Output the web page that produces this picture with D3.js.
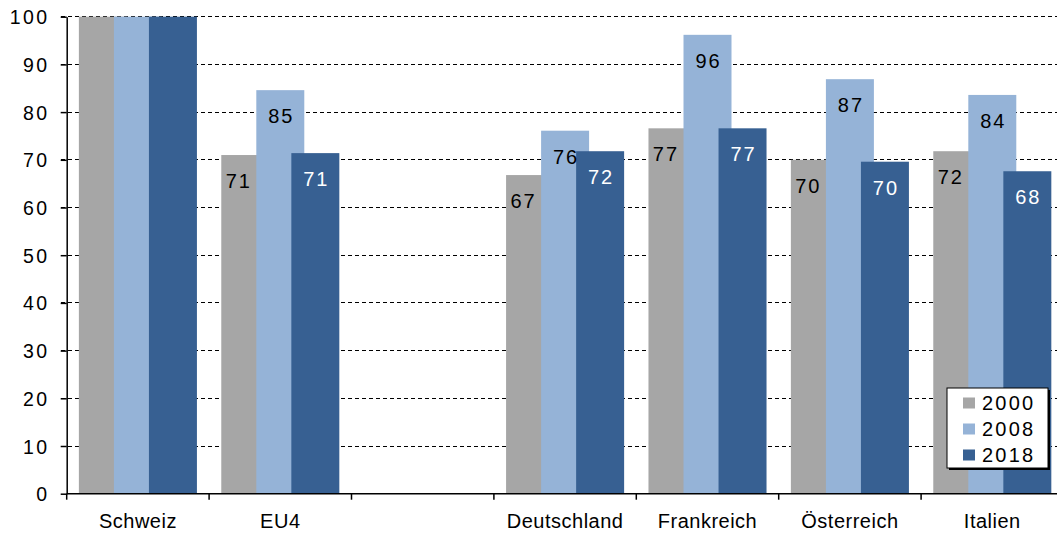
<!DOCTYPE html>
<html>
<head>
<meta charset="utf-8">
<script src="https://cdn.jsdelivr.net/npm/d3@7"></script>
<style>
  body { margin: 0; background: #fff; }
  text { font-family: "Liberation Sans", Arial, sans-serif; }
</style>
</head>
<body>
<div class="chart"></div>
<script>
// data
const categories = ["Schweiz", "EU4", "", "Deutschland", "Frankreich", "Österreich", "Italien"];
const years = ["2000", "2008", "2018"];
const v2000 = [100, 71.0, null, 66.8, 76.6, 70.0, 71.8];
const v2008 = [100, 84.6, null, 76.1, 96.2, 86.9, 83.6];
const v2018 = [100, 71.4, null, 71.8, 76.6, 69.6, 67.6];
const yTicks = [0, 10, 20, 30, 40, 50, 60, 70, 80, 90, 100];
const colors = ["#a6a6a6", "#95b3d7", "#376092"];

const width = 1057, height = 534;
const margin = ({ top: 16.7, left: 66.7, bottom: 40.3 });

const svg = d3.select(".chart")
    .append("svg")
    .attr("width", width)
    .attr("height", height)

// scales
const x = d3.scaleBand()
    .domain(categories)
    .range([margin.left, 1063.5])

const bw = x.bandwidth()
const barW = bw * 0.337
const step = bw * 0.246
const pad = (bw - 2 * step - barW) / 2

// left edge of each year's bar within a band (bars overlap)
const xYear = d3.scalePoint()
    .domain(years)
    .range([pad, pad + 2 * step])

const y = d3.scaleLinear()
    .domain([0, 100])
    .range([height - margin.bottom, margin.top])

const series = years.map((yr, i) => ({
    year: yr,
    color: colors[i],
    values: [v2000, v2008, v2018][i].map((v, j) => ({ cat: categories[j], v: v, year: yr }))
        .filter(d => d.v != null)
}))

// dashed gridlines
svg.append("g")
    .attr("shape-rendering", "crispEdges")
    .selectAll("line")
    .data(yTicks.filter(t => t > 0))
    .join("line")
    .attr("x1", margin.left - 6)
    .attr("x2", width)
    .attr("y1", d => y(d))
    .attr("y2", d => y(d))
    .attr("stroke", "#000")
    .attr("stroke-width", 1)
    .attr("stroke-dasharray", "4.5,2.5")

// bars, later years drawn on top
series.forEach(s => {
    svg.append("g")
        .selectAll("rect")
        .data(s.values)
        .join("rect")
        .attr("x", d => x(d.cat) + xYear(d.year))
        .attr("y", d => y(d.v))
        .attr("width", barW)
        .attr("height", d => y(0) - y(d.v))
        .attr("fill", s.color)
})

// value labels (no labels for Schweiz = index 100)
series.forEach((s, i) => {
    svg.append("g")
        .selectAll("text")
        .data(s.values.filter(d => d.cat !== "Schweiz"))
        .join("text")
        .attr("x", d => x(d.cat) + xYear(d.year) + (i === 0 ? step / 2 - 1 : barW / 2) + 1)
        .attr("y", d => y(d.v) + 33)
        .attr("text-anchor", "middle")
        .attr("font-size", "20px")
        .attr("letter-spacing", "2px")
        .attr("fill", i === 2 ? "#fff" : "#000")
        .text(d => d3.format(".0f")(d.v))
})

// y axis
const yAxis = svg.append("g")
    .attr("transform", "translate(" + margin.left + ",0)")
    .call(d3.axisLeft(y).tickValues(yTicks).tickSize(6).tickSizeOuter(0).tickPadding(11))
yAxis.select(".domain").attr("stroke", "#000").attr("stroke-width", 1.5)
yAxis.selectAll(".tick line").attr("stroke", "#000").attr("stroke-width", 1.5)
yAxis.selectAll("text")
    .attr("font-size", "19.5px")
    .attr("letter-spacing", "2.5px")
    .attr("dy", "0.36em")
    .attr("fill", "#000")
    .style("font-family", "'Liberation Sans', Arial, sans-serif")

// x axis
const xAxis = svg.append("g")
    .attr("transform", "translate(0," + y(0) + ")")
    .call(d3.axisBottom(x).tickSize(0).tickPadding(20))
xAxis.select(".domain").remove()
xAxis.selectAll("text")
    .attr("font-size", "20px")
    .attr("letter-spacing", "0.5px")
    .attr("dy", "0.71em")
    .attr("fill", "#000")
    .style("font-family", "'Liberation Sans', Arial, sans-serif")

svg.append("line")
    .attr("x1", margin.left)
    .attr("x2", width)
    .attr("y1", y(0))
    .attr("y2", y(0))
    .attr("stroke", "#000")
    .attr("stroke-width", 1.5)

// tick marks between categories
svg.append("g")
    .selectAll("line")
    .data(categories)
    .join("line")
    .attr("x1", d => x(d))
    .attr("x2", d => x(d))
    .attr("y1", y(0))
    .attr("y2", y(0) + 6)
    .attr("stroke", "#000")
    .attr("stroke-width", 1.5)

// legend
const legend = svg.append("g")
    .attr("transform", "translate(947,388)")

legend.append("rect")
    .attr("x", 2).attr("y", 2)
    .attr("width", 101).attr("height", 80)
    .attr("fill", "#000")
legend.append("rect")
    .attr("width", 101).attr("height", 80)
    .attr("fill", "#fff")
    .attr("stroke", "#000")
    .attr("stroke-width", 1)

const item = legend.selectAll("g.item")
    .data(series)
    .join("g")
    .attr("class", "item")
    .attr("transform", (d, i) => "translate(0," + (15 + i * 26) + ")")

item.append("rect")
    .attr("x", 16).attr("y", -5.5)
    .attr("width", 12).attr("height", 11)
    .attr("fill", d => d.color)

item.append("text")
    .attr("x", 35)
    .attr("y", 7)
    .attr("font-size", "20px")
    .attr("letter-spacing", "2.2px")
    .text(d => d.year)
</script>
</body>
</html>
